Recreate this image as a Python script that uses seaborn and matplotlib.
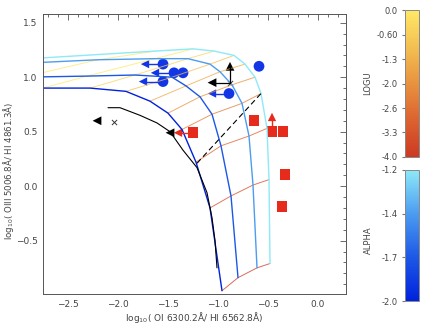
import numpy as np
import pandas as pd
import matplotlib
matplotlib.use("Agg")
import matplotlib.pyplot as plt
from matplotlib.colors import LinearSegmentedColormap, Normalize
from matplotlib.cm import ScalarMappable
from matplotlib.ticker import MultipleLocator
import seaborn as sns

# model grid: one track per power-law index, nodes at each ionisation parameter
logu_vals = [0.5, 0.0, -0.5, -1.0, -1.5, -2.0, -2.5, -3.0, -3.5, -4.0]
alpha_vals = [-2.0, -1.733, -1.467, -1.2]

x_a20 = [-3.38, -2.75, -2.28, -1.92, -1.68, -1.50, -1.36, -1.22, -1.08, -0.96]
y_a20 = [0.90, 0.90, 0.90, 0.87, 0.78, 0.67, 0.52, 0.22, -0.20, -0.96]
x_a17 = [-2.95, -2.31, -1.83, -1.46, -1.32, -1.18, -1.06, -0.97, -0.87, -0.80]
y_a17 = [1.00, 1.01, 1.02, 1.00, 0.92, 0.82, 0.66, 0.37, -0.09, -0.84]
x_a15 = [-2.20, -1.63, -1.30, -1.08, -0.98, -0.86, -0.76, -0.69, -0.65, -0.61]
y_a15 = [1.16, 1.17, 1.17, 1.12, 1.05, 0.93, 0.76, 0.46, 0.01, -0.75]
x_a12 = [-1.62, -1.25, -1.04, -0.84, -0.73, -0.63, -0.57, -0.51, -0.49, -0.48]
y_a12 = [1.24, 1.26, 1.24, 1.20, 1.12, 1.00, 0.85, 0.53, 0.06, -0.71]
# where the tracks leave the plot on the left
edge_x = [-3.6, -3.6, -3.6, -3.6]
edge_y = [0.90, 1.00, 1.10, 1.13]

# demarcation curve and dashed line
curve_x = [-2.10, -1.98, -1.78, -1.61, -1.48, -1.35, -1.21, -1.11, -1.06, -1.03, -1.01]
curve_y = [0.72, 0.72, 0.65, 0.58, 0.50, 0.33, 0.17, -0.06, -0.29, -0.50, -0.75]
dash_x = [-1.21, -0.55]
dash_y = [0.21, 0.87]

# observations
blue_x = [-1.55, -1.44, -1.35, -1.55, -0.59, -0.89]
blue_y = [1.12, 1.04, 1.04, 0.96, 1.10, 0.85]
blue_lim_x0 = [-1.55, -1.44, -1.55, -0.89]
blue_lim_x1 = [-1.73, -1.63, -1.75, -1.06]
blue_lim_y = [1.12, 1.04, 0.96, 0.85]

red_x = [-1.25, -0.64, -0.46, -0.35, -0.33, -0.36]
red_y = [0.49, 0.60, 0.50, 0.50, 0.11, -0.19]
red_left = (-1.25, -1.40, 0.49)
red_up = (-0.46, 0.50, 0.635)

black_x = [-2.04, -0.88]
black_y = [0.59, 0.95]
black_tri_x = [-2.21, -1.48]
black_tri_y = [0.60, 0.49]
black_up = (-0.88, 0.95, 1.10)
black_left = (-0.88, -1.06, 0.95)

logu_ticks = [-4.0, -3.333, -2.667, -2.0, -1.333, -0.667, 0.0]
logu_labels = ["-4.0", "-3.3", "-2.6", "-2.0", "-1.3", "-0.60", "0.0"]
alpha_ticks = [-2.0, -1.733, -1.467, -1.2]
alpha_labels = ["-2.0", "-1.7", "-1.4", "-1.2"]

logu_cmap = LinearSegmentedColormap.from_list(
    "logu", ["#cc3a22", "#dc6230", "#e8923e", "#f3c052", "#ffe866"])
alpha_cmap = LinearSegmentedColormap.from_list(
    "alpha", ["#0022dd", "#1c58e6", "#4c9cf0", "#8ee9f8"])

tracks_x = [x_a20, x_a17, x_a15, x_a12]
tracks_y = [y_a20, y_a17, y_a15, y_a12]

rows = []
for k, a in enumerate(alpha_vals):
    rows.append({"x": edge_x[k], "y": edge_y[k], "alpha": a, "order": -1})
    for j in range(len(logu_vals)):
        rows.append({"x": tracks_x[k][j], "y": tracks_y[k][j], "alpha": a, "order": j})
df_alpha = pd.DataFrame(rows)

rows = []
for j, u in enumerate(logu_vals):
    for k in range(len(alpha_vals)):
        rows.append({"x": tracks_x[k][j], "y": tracks_y[k][j], "logu": u, "order": k})
df_logu = pd.DataFrame(rows)

sns.set_style("white")
plt.rcParams["font.family"] = ["DejaVu Sans"]
txt = "#444444"

fig = plt.figure(figsize=(4.36, 3.27), dpi=100)
ax = fig.add_axes([0.0986, 0.1009, 0.695, 0.8563])

sns.lineplot(data=df_logu, x="x", y="y", hue="logu", units="logu", estimator=None,
             sort=False, palette=logu_cmap, hue_norm=(-4, 0), legend=False,
             lw=0.7, alpha=0.75, ax=ax)
sns.lineplot(data=df_alpha, x="x", y="y", hue="alpha", units="alpha", estimator=None,
             sort=False, palette=alpha_cmap, hue_norm=(-2.0, -1.2), legend=False,
             lw=1.0, ax=ax)

ax.plot(curve_x, curve_y, color="black", lw=0.8)
ax.plot(dash_x, dash_y, color="black", lw=0.8, ls=(0, (5, 3)))

blue = "#1236e6"
red = "#e62a1c"
for x0, x1, yy in zip(blue_lim_x0, blue_lim_x1, blue_lim_y):
    ax.plot([x0, x1], [yy, yy], color=blue, lw=1.0)
sns.scatterplot(x=blue_lim_x1, y=blue_lim_y, marker="<", s=36, color=blue,
                edgecolor="none", ax=ax)
sns.scatterplot(x=blue_x, y=blue_y, marker="o", s=60, color=blue,
                edgecolor="none", ax=ax)

ax.plot([red_left[0], red_left[1]], [red_left[2], red_left[2]], color=red, lw=1.0)
ax.plot([red_up[0], red_up[0]], [red_up[1], red_up[2]], color=red, lw=1.0)
sns.scatterplot(x=[red_left[1]], y=[red_left[2]], marker="<", s=36, color=red,
                edgecolor="none", ax=ax)
sns.scatterplot(x=[red_up[0]], y=[red_up[2]], marker="^", s=36, color=red,
                edgecolor="none", ax=ax)
sns.scatterplot(x=red_x, y=red_y, marker="s", s=60, color=red,
                edgecolor="none", ax=ax)

ax.plot([black_up[0], black_up[0]], [black_up[1], black_up[2]], color="black", lw=0.9)
ax.plot([black_left[0], black_left[1]], [black_left[2], black_left[2]], color="black", lw=0.9)
sns.scatterplot(x=[black_up[0]], y=[black_up[2]], marker="^", s=40, color="black",
                edgecolor="none", ax=ax)
sns.scatterplot(x=[black_left[1]] + black_tri_x, y=[black_left[2]] + black_tri_y,
                marker="<", s=40, color="black", edgecolor="none", ax=ax)
sns.scatterplot(x=black_x, y=black_y, marker="x", s=14, color="#333333",
                linewidth=0.7, ax=ax)

ax.set_xlim(-2.75, 0.28)
ax.set_ylim(-0.99, 1.58)
ax.xaxis.set_major_locator(MultipleLocator(0.5))
ax.xaxis.set_minor_locator(MultipleLocator(0.1))
ax.yaxis.set_major_locator(MultipleLocator(0.5))
ax.yaxis.set_minor_locator(MultipleLocator(0.1))
ax.tick_params(which="both", direction="in", top=True, right=True,
               colors="#555555", labelcolor=txt, labelsize=6.5, width=0.6)
ax.tick_params(which="major", length=4, pad=4)
ax.tick_params(which="minor", length=2)
for s in ax.spines.values():
    s.set_color("#555555")
    s.set_linewidth(0.7)
ax.set_xlabel(r"log$_{10}$( OI 6300.2Å/ HI 6562.8Å)", fontsize=6.5, color=txt, labelpad=1)
ax.set_ylabel(r"log$_{10}$( OIII 5006.8Å/ HI 4861.3Å)", fontsize=6.2, color=txt)
ax.yaxis.set_label_coords(-0.088, 0.44)

# colour bars
cax1 = fig.add_axes([0.929, 0.520, 0.032, 0.449])
cb1 = fig.colorbar(ScalarMappable(norm=Normalize(-4, 0), cmap=logu_cmap), cax=cax1,
                   ticks=logu_ticks)
cax2 = fig.add_axes([0.929, 0.0795, 0.032, 0.401])
cb2 = fig.colorbar(ScalarMappable(norm=Normalize(-2.0, -1.2), cmap=alpha_cmap), cax=cax2,
                   ticks=alpha_ticks)
for cb, labels in ((cb1, logu_labels), (cb2, alpha_labels)):
    cb.ax.yaxis.set_ticks_position("left")
    cb.set_ticklabels(labels)
    cb.ax.tick_params(labelsize=6, colors="#777777", labelcolor=txt, length=2, pad=3)
    cb.outline.set_edgecolor("#888888")
    cb.outline.set_linewidth(0.7)
fig.text(368 / 436, 1 - 83 / 327, "LOGU", rotation=90, ha="center", va="center",
         fontsize=6, color=txt)
fig.text(368 / 436, 1 - 240 / 327, "ALPHA", rotation=90, ha="center", va="center",
         fontsize=6, color=txt)

fig.savefig("out.png", dpi=100)
